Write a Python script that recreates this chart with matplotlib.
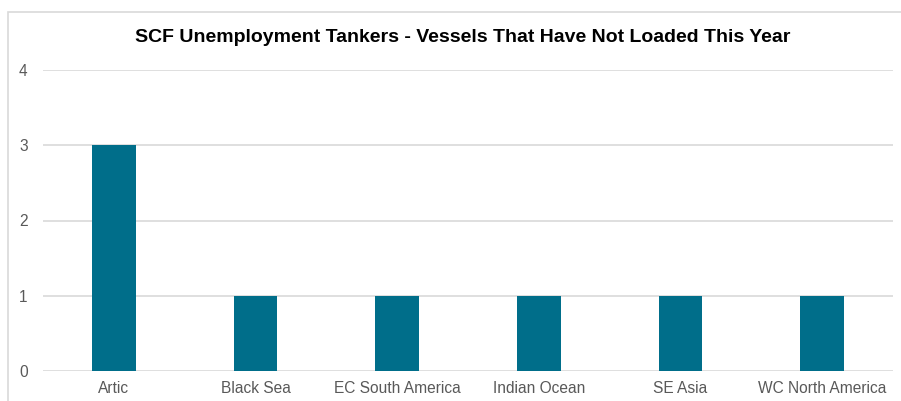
import matplotlib.pyplot as plt
from matplotlib.patches import Rectangle

regions = ['Artic', 'Black Sea', 'EC South America', 'Indian Ocean', 'SE Asia', 'WC North America']
vessels = [3, 1, 1, 1, 1, 1]
yticks = [0, 1, 2, 3, 4]

plt.rcParams['font.family'] = ['Liberation Sans', 'DejaVu Sans']

fig = plt.figure(figsize=(9.01, 4.01), dpi=100)
ax = fig.add_axes([43 / 901, 30 / 401, 850 / 901, 301 / 401])

# chart frame, cut off at right and bottom like the screenshot
fig.patches.append(Rectangle((8 / 901, -0.1), 1.2, 1 - 12 / 401 + 0.1,
                             transform=fig.transFigure, fill=False,
                             edgecolor='#D9D9D9', linewidth=1.2))

x = range(len(regions))
ax.bar(x, vessels, width=0.31, color='#006E8A', zorder=3)

ax.set_xlim(-0.5, len(regions) - 0.5)
ax.set_ylim(0, 4)
ax.set_yticks(yticks)
ax.set_xticks(list(x))
ax.set_xticklabels(regions)
ax.grid(axis='y', color='#D9D9D9', linewidth=1.2, zorder=0)
for s in ax.spines.values():
    s.set_visible(False)
ax.tick_params(length=0, colors='#595959', labelsize=11.2)
ax.tick_params(axis='y', pad=11)
ax.tick_params(axis='x', pad=7.5)

fig.text(463 / 901, 1 - 38 / 401, 'SCF Unemployment Tankers - Vessels That Have Not Loaded This Year',
         ha='center', va='center', fontsize=14, fontweight='bold', color='black')

fig.savefig('out.png', dpi=100)
